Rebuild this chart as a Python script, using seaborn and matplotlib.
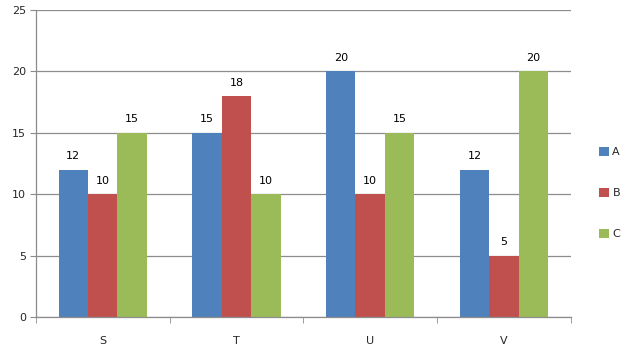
import numpy as np
import pandas as pd
import matplotlib
matplotlib.use("Agg")
import matplotlib.pyplot as plt
import seaborn as sns

categories = ["S", "T", "U", "V"]
series = ["A", "B", "C"]
vals_a = [12, 15, 20, 12]
vals_b = [10, 18, 10, 5]
vals_c = [15, 10, 15, 20]

df = pd.DataFrame({
    "cat": categories * 3,
    "series": ["A"] * 4 + ["B"] * 4 + ["C"] * 4,
    "value": vals_a + vals_b + vals_c,
})

sns.set_style("white")
plt.rcParams["font.family"] = ["DejaVu Sans"]

fig = plt.figure(figsize=(6.3, 3.57), dpi=100)
ax = fig.add_axes([0.057, 0.112, 0.849, 0.86])

colors = ["#4F81BD", "#C0504D", "#9BBB59"]
sns.barplot(data=df, x="cat", y="value", hue="series", palette=colors,
            width=0.66, saturation=1, linewidth=0, ax=ax, legend=True)

for c in ax.containers:
    ax.bar_label(c, padding=6, fontsize=8, color="black")

ax.set_ylim(0, 25)
ax.set_xlim(-0.5, 3.5)
ax.set_yticks(range(0, 26, 5))
ax.yaxis.grid(True, color="#8c8c8c", linewidth=0.9)
ax.set_axisbelow(True)
ax.set_xlabel("")
ax.set_ylabel("")
ax.tick_params(axis="y", labelsize=8, length=4, color="#8c8c8c", left=True, pad=3)
ax.tick_params(axis="x", which="major", labelsize=8, length=0, pad=14)
ax.set_xticks(np.arange(-0.5, 4, 1), minor=True)
ax.tick_params(axis="x", which="minor", length=4, color="#8c8c8c", bottom=True)

for s in ["top", "right"]:
    ax.spines[s].set_visible(False)
for s in ["left", "bottom"]:
    ax.spines[s].set_color("#8c8c8c")
    ax.spines[s].set_linewidth(0.9)

handles, labels = ax.get_legend_handles_labels()
ax.legend(handles, labels, loc="center left", bbox_to_anchor=(0.935, 0.459),
          bbox_transform=fig.transFigure, frameon=False, fontsize=8,
          handlelength=0.9, handleheight=0.9, handletextpad=0.3, labelspacing=2.75)

fig.savefig("out.png", dpi=100)
